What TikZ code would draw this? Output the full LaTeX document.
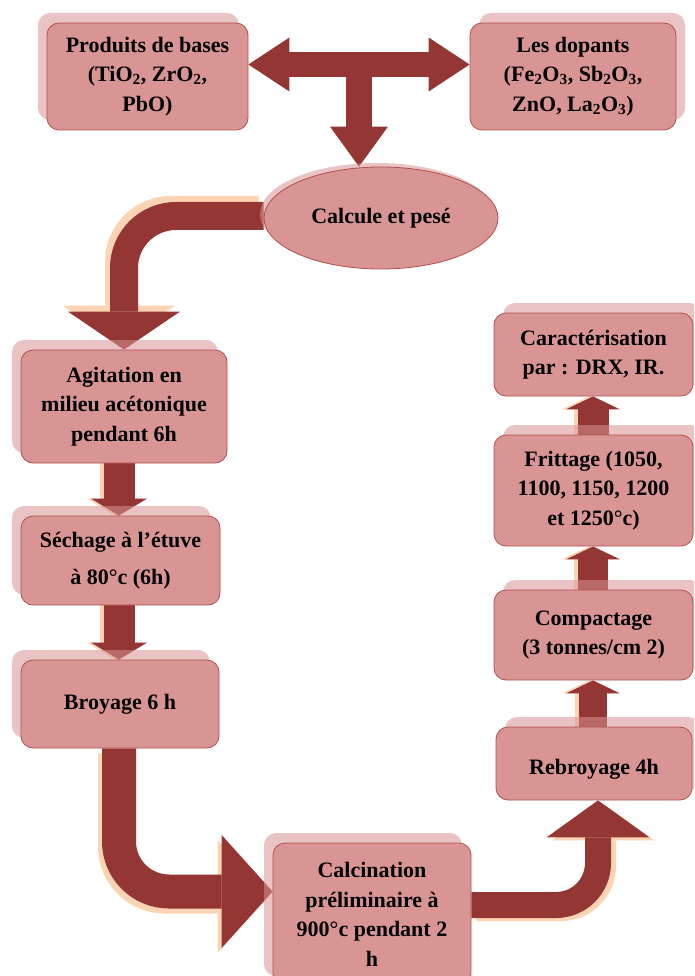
\documentclass[tikz,border=0pt]{standalone}
\usepackage{fontspec}
\setmainfont{Liberation Serif}
\usetikzlibrary{arrows.meta,shapes.geometric,shadows,backgrounds,calc}

\definecolor{boxfill}{HTML}{D99594}
\definecolor{boxline}{HTML}{B0504E}
\definecolor{flowred}{HTML}{943634}
\definecolor{peach}{HTML}{FBD4B4}

\tikzset{
  stage/.style={rectangle, rounded corners=12pt, fill=boxfill, draw=boxline,
    line width=0.8pt, inner sep=0pt, align=center, text=black,
    font=\fontsize{22}{29.5}\selectfont\bfseries},
  shadowL/.style={general shadow={shadow xshift=-9pt, shadow yshift=10pt,
    fill=boxfill, fill opacity=0.55}},
  shadowR/.style={general shadow={shadow xshift=9pt, shadow yshift=10pt,
    fill=boxfill, fill opacity=0.55}},
  flow/.style={draw=flowred, line width=#1, line cap=butt},
  glow/.style={draw=peach, line width=#1, line cap=butt},
  headS/.style={-{Triangle[width=56pt,length=17pt,line width=0pt]}},
  headR/.style={-{Triangle[width=54pt,length=13pt,line width=0pt]}},
}

\begin{document}
\begin{tikzpicture}[x=1pt,y=-1pt]
\useasboundingbox (0,0) rectangle (694,976);
\clip (0,0) rectangle (694,976);

% process stages
\node[stage, shadowL, minimum width=201pt, minimum height=107pt] (prod) at (147.5,76.5)
  {Produits de bases\\(TiO\textsubscript{2}, ZrO\textsubscript{2},\\PbO)};
\node[stage, shadowR, minimum width=206pt, minimum height=107pt] (dop) at (573,76.5)
  {Les dopants\\(Fe\textsubscript{2}O\textsubscript{3}, Sb\textsubscript{2}O\textsubscript{3},\\ZnO, La\textsubscript{2}O\textsubscript{3})};
\node[stage, ellipse, rounded corners=0pt, general shadow={shadow xshift=-4pt, shadow yshift=4pt, fill=boxfill, fill opacity=0.55},
  minimum width=234pt, minimum height=102pt] (ell) at (381,218) {Calcule et pesé};

\node[stage, shadowL, minimum width=206pt, minimum height=113pt] (agit) at (124,406.5)
  {Agitation en\\milieu acétonique\\pendant 6h};
\node[stage, shadowL, minimum width=199pt, minimum height=89pt] (sech) at (120.5,560.5)
  {Séchage à l’étuve\\[8pt]à 80°c (6h)};
\node[stage, shadowL, minimum width=198pt, minimum height=88pt] (broy) at (120,704)
  {Broyage 6 h};
\node[stage, shadowL, minimum width=198pt, minimum height=143pt] (calc) at (372,914.5)
  {Calcination\\préliminaire à\\900°c pendant 2\\h};

\node[stage, shadowR, minimum width=196pt, minimum height=73pt, text height=27pt, text depth=5pt] (rebr) at (594,763.5)
  {Rebroyage 4h};
\node[stage, shadowR, minimum width=199pt, minimum height=90pt] (comp) at (593.5,635)
  {Compactage\\(3 tonnes/cm 2)};
\node[stage, shadowR, minimum width=199pt, minimum height=111pt] (fritt) at (593.5,490.5)
  {Frittage (1050,\\1100, 1150, 1200\\et 1250°c)};
\node[stage, shadowR, minimum width=199pt, minimum height=83pt] (cara) at (593.5,354.5)
  {Caractérisation\\par : DRX, IR.};

% reference columns for the straight arrows
\coordinate (lx) at (119,0);
\coordinate (rx) at (593,0);
\coordinate (rcx) at (598,0);
\coordinate (tj) at (359,64.5);

\begin{scope}[on background layer]
  \fill[white] (0,0) rectangle (694,976);

  % T-shaped arrow between the raw materials and the weighing step
  \draw[flow=25pt, {Triangle[width=54pt,length=41pt,line width=0pt]}-{Triangle[width=54pt,length=41pt,line width=0pt]}]
    ([yshift=12pt]prod.east) -- ([yshift=12pt]dop.west);
  \draw[flow=26pt, -{Triangle[width=58pt,length=40pt,line width=0pt]}] (tj) -- (tj |- ell.north);

  % weighing -> stirring
  \draw[glow=28pt, rounded corners=52pt, -{Triangle[width=112pt,length=38pt,line width=0pt]},
    transform canvas={xshift=-5pt,yshift=6pt}] ([yshift=2pt]ell.west) -| (agit.north);
  \draw[flow=28pt, rounded corners=52pt, -{Triangle[width=112pt,length=38pt,line width=0pt]}]
    ([yshift=2pt]ell.west) -| (agit.north);

  % left column
  \draw[glow=31pt, headS, transform canvas={xshift=-4pt}] (agit.south -| lx) -- (sech.north -| lx);
  \draw[flow=31pt, headS] (agit.south -| lx) -- (sech.north -| lx);
  \draw[glow=31pt, headS, transform canvas={xshift=-4pt}] (sech.south -| lx) -- (broy.north -| lx);
  \draw[flow=31pt, headS] (sech.south -| lx) -- (broy.north -| lx);

  % grinding -> calcination
  \draw[glow=34pt, rounded corners=50pt, -{Triangle[width=113pt,length=51pt,line width=0pt]},
    transform canvas={xshift=-4pt,yshift=-5pt}] (broy.south -| lx) |- ([yshift=23pt]calc.west);
  \draw[flow=34pt, rounded corners=50pt, -{Triangle[width=113pt,length=51pt,line width=0pt]}]
    (broy.south -| lx) |- ([yshift=23pt]calc.west);

  % calcination -> regrinding
  \draw[glow=26pt, rounded corners=42pt, -{Triangle[width=103pt,length=37pt,line width=0pt]},
    transform canvas={xshift=5pt,yshift=-3pt}] ([yshift=9.5pt]calc.east) -| (rebr.south -| rcx);
  \draw[flow=26pt, rounded corners=42pt, -{Triangle[width=103pt,length=37pt,line width=0pt]}]
    ([yshift=9.5pt]calc.east) -| (rebr.south -| rcx);

  % right column
  \draw[glow=28pt, headR, transform canvas={xshift=-4pt}] (rebr.north -| rx) -- (comp.south -| rx);
  \draw[flow=28pt, headR] (rebr.north -| rx) -- (comp.south -| rx);
  \draw[glow=30pt, headR, transform canvas={xshift=-4pt}] (comp.north -| rx) -- (fritt.south -| rx);
  \draw[flow=30pt, headR] (comp.north -| rx) -- (fritt.south -| rx);
  \draw[glow=31pt, headR, transform canvas={xshift=-4pt}] (fritt.north -| rx) -- (cara.south -| rx);
  \draw[flow=31pt, headR] (fritt.north -| rx) -- (cara.south -| rx);
\end{scope}
\end{tikzpicture}
\end{document}
